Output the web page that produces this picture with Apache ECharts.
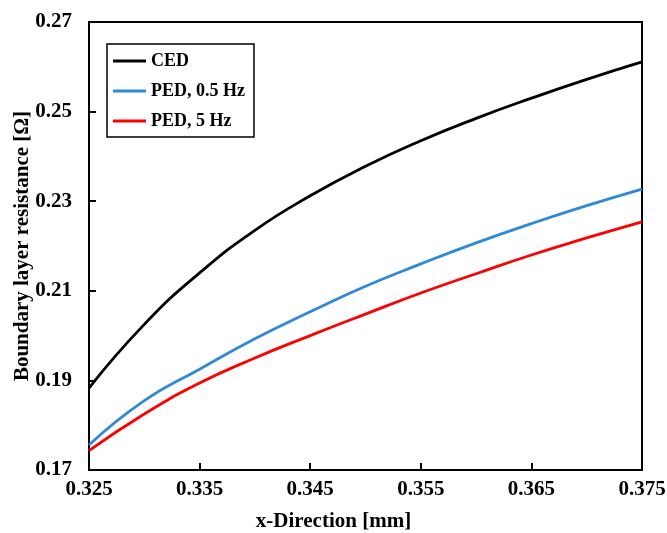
<!DOCTYPE html>
<html>
<head>
<meta charset="utf-8">
<script src="https://cdn.jsdelivr.net/npm/echarts@6/dist/echarts.min.js"></script>
<style>
  html, body { margin: 0; padding: 0; background: #fff; }
  #chart { width: 667px; height: 533px; }
</style>
</head>
<body>
<div id="chart"></div>
<script>
// x positions [mm]
const xPos = [0.325, 0.330, 0.335, 0.340, 0.345, 0.350, 0.355, 0.360, 0.365, 0.370, 0.375];
// boundary layer resistance [Ohm]
const ced = [0.1883, 0.2025, 0.2140, 0.2235, 0.2312, 0.2378, 0.2435, 0.2485, 0.2530, 0.2572, 0.2611];
const ped05 = [0.1756, 0.1855, 0.1925, 0.1993, 0.2053, 0.2110, 0.2160, 0.2207, 0.2250, 0.2290, 0.2327];
const ped5 = [0.1743, 0.1825, 0.1894, 0.1950, 0.2000, 0.2048, 0.2095, 0.2138, 0.2180, 0.2218, 0.2254];
const seriesNames = ['CED', 'PED, 0.5 Hz', 'PED, 5 Hz'];
const seriesColors = ['#000000', '#2e8ad8', '#ff0000'];

const chart = echarts.init(document.getElementById('chart'));
const font = '"Liberation Serif", "Times New Roman", serif';

function pairs(ys) {
    return xPos.map((x, i) => [x, ys[i]]);
}

const series = [ced, ped05, ped5].map((ys, i) => ({
    name: seriesNames[i],
    type: 'line',
    data: pairs(ys),
    smooth: true,
    symbol: 'none',
    lineStyle: { color: seriesColors[i], width: 2.8 },
    itemStyle: { color: seriesColors[i] }
}));

const option = {
    animation: false,
    textStyle: { fontFamily: font },
    grid: {
        left: 89, right: 25, top: 22, bottom: 63,
        outerBoundsMode: 'none',
        show: true, borderColor: '#000', borderWidth: 2, backgroundColor: 'transparent'
    },
    legend: {
        orient: 'vertical',
        left: 107, top: 44,
        data: seriesNames,
        icon: 'rect',
        borderColor: '#000', borderWidth: 1.5,
        padding: [8, 9, 7, 6],
        itemWidth: 33, itemHeight: 3, itemGap: 12,
        textStyle: { fontFamily: font, fontWeight: 'bold', fontSize: 18, lineHeight: 18, color: '#000' }
    },
    xAxis: {
        type: 'value',
        min: 0.325, max: 0.375, interval: 0.01,
        name: 'x-Direction [mm]',
        nameLocation: 'middle', nameGap: 41,
        nameMoveOverlap: false,
        nameTextStyle: { fontFamily: font, fontWeight: 'bold', fontSize: 21, color: '#000', padding: [0, 64, 0, 0] },
        axisLine: { lineStyle: { color: '#000', width: 2 } },
        axisTick: { inside: true, length: 7, lineStyle: { color: '#000', width: 2 } },
        axisLabel: {
            margin: 9, fontFamily: font, fontWeight: 'bold', fontSize: 21, color: '#000',
            formatter: v => v.toFixed(3)
        },
        splitLine: { show: false }
    },
    yAxis: {
        type: 'value',
        min: 0.17, max: 0.27, interval: 0.02,
        name: 'Boundary layer resistance [Ω]',
        nameLocation: 'middle', nameGap: 56,
        nameMoveOverlap: false,
        nameTextStyle: { fontFamily: font, fontWeight: 'bold', fontSize: 21, color: '#000' },
        axisLine: { lineStyle: { color: '#000', width: 2 } },
        axisTick: { inside: true, length: 7, lineStyle: { color: '#000', width: 2 } },
        axisLabel: {
            margin: 17, fontFamily: font, fontWeight: 'bold', fontSize: 21, color: '#000',
            formatter: v => v.toFixed(2)
        },
        splitLine: { show: false }
    },
    series: series
};

chart.setOption(option);
</script>
</body>
</html>
